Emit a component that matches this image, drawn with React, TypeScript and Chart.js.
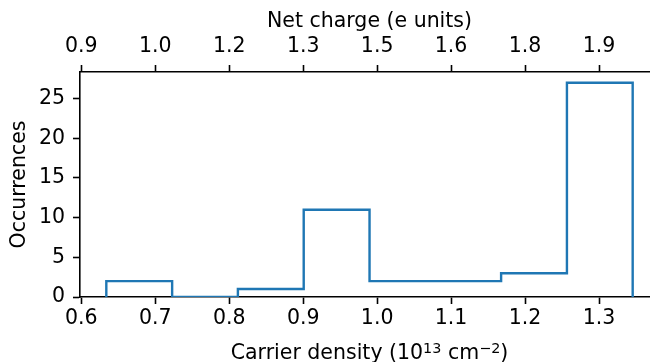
import React, { useEffect, useRef } from "react";
import { Chart, registerables } from "chart.js";

Chart.register(...registerables);

// Histogram of carrier density (bin edges, 10^13 cm^-2) and counts per bin
const binEdges = [0.6338, 0.7228, 0.8117, 0.9007, 0.9897, 1.0786, 1.1676, 1.2566, 1.3455];
const binCounts = [2, 0, 1, 11, 2, 2, 3, 27];

// Bottom axis ticks (carrier density) and the matching net-charge labels on top
const densityTicks = [0.6, 0.7, 0.8, 0.9, 1.0, 1.1, 1.2, 1.3];
const chargeLabels = ["0.9", "1.0", "1.2", "1.3", "1.5", "1.6", "1.8", "1.9"];
const countTicks = [0, 5, 10, 15, 20, 25];

// Bottom axis title, split into normal and superscript runs
const densityTitle: { text: string; sup: boolean }[] = [
  { text: "Carrier density (10", sup: false },
  { text: "13", sup: true },
  { text: " cm", sup: false },
  { text: "\u22122", sup: true },
  { text: ")", sup: false },
];

const FONT = "'DejaVu Sans', 'Liberation Sans', sans-serif";
const SIZE = 20.5;
const LINE = "#1f77b4";

// Draws the bottom axis title with raised, smaller superscripts
const densityTitlePlugin = {
  id: "densityTitle",
  afterDraw(chart: any) {
    const ctx: CanvasRenderingContext2D = chart.ctx;
    const area = chart.chartArea;
    const supSize = SIZE * 0.7;
    const fontFor = (sup: boolean) => `${sup ? supSize : SIZE}px ${FONT}`;
    ctx.save();
    ctx.fillStyle = "#000";
    ctx.textBaseline = "alphabetic";
    ctx.textAlign = "left";
    let total = 0;
    const widths = densityTitle.map((run) => {
      ctx.font = fontFor(run.sup);
      const w = ctx.measureText(run.text).width;
      total += w;
      return w;
    });
    let x = (area.left + area.right) / 2 - total / 2;
    const baseline = 359;
    densityTitle.forEach((run, i) => {
      ctx.font = fontFor(run.sup);
      ctx.fillText(run.text, x, run.sup ? baseline - 6.5 : baseline);
      x += widths[i];
    });
    ctx.restore();
  },
};

export default function App() {
  const canvasRef = useRef<HTMLCanvasElement | null>(null);

  useEffect(() => {
    const canvas = canvasRef.current;
    if (!canvas) return;

    // step outline of the histogram: up at the first edge, across each bin, down at the last edge
    const pts: { x: number; y: number }[] = [{ x: binEdges[0], y: 0 }];
    binCounts.forEach((c, i) => {
      pts.push({ x: binEdges[i], y: c });
      pts.push({ x: binEdges[i + 1], y: c });
    });
    pts.push({ x: binEdges[binEdges.length - 1], y: 0 });

    const lo = binEdges[0];
    const hi = binEdges[binEdges.length - 1];
    const xMin = lo - 0.05 * (hi - lo);
    const xMax = hi + 0.05 * (hi - lo);
    const yMax = Math.max(...binCounts) * 1.05;

    const tickFont = { family: FONT, size: SIZE };
    const titleFont = { family: FONT, size: SIZE, lineHeight: 1 };
    const grid = {
      display: true,
      drawOnChartArea: false,
      drawTicks: true,
      tickLength: 7,
      tickWidth: 1.6,
      tickColor: "#000",
      color: "#000",
    };
    const border = { display: true, color: "#000", width: 1.6 };

    const chart = new Chart(canvas, {
      type: "line",
      data: {
        datasets: [
          {
            data: pts,
            borderColor: LINE,
            borderWidth: 2.4,
            pointRadius: 0,
            tension: 0,
            fill: false,
            xAxisID: "x",
            yAxisID: "y",
          },
        ],
      },
      options: {
        responsive: false,
        animation: false,
        devicePixelRatio: 1,
        layout: { padding: 0 },
        plugins: { legend: { display: false }, tooltip: { enabled: false } },
        scales: {
          x: {
            type: "linear",
            position: "bottom",
            min: xMin,
            max: xMax,
            grid,
            border,
            afterBuildTicks: (s: any) => {
              s.ticks = densityTicks.map((v) => ({ value: v }));
            },
            afterFit: (s: any) => {
              s.height = 65;
            },
            ticks: {
              autoSkip: false,
              maxRotation: 0,
              color: "#000",
              font: tickFont,
              padding: 2,
              callback: (v: any) => Number(v).toFixed(1),
            },
            title: { display: false },
          },
          x2: {
            type: "linear",
            position: "top",
            min: xMin,
            max: xMax,
            grid,
            border,
            afterBuildTicks: (s: any) => {
              s.ticks = densityTicks.map((v) => ({ value: v }));
            },
            afterFit: (s: any) => {
              s.height = 72;
            },
            ticks: {
              autoSkip: false,
              maxRotation: 0,
              color: "#000",
              font: tickFont,
              padding: 6,
              callback: (_v: any, i: number) => chargeLabels[i],
            },
            title: {
              display: true,
              text: "Net charge (e units)",
              color: "#000",
              font: titleFont,
              padding: { top: 11, bottom: 0 },
            },
          },
          y: {
            type: "linear",
            position: "left",
            min: 0,
            max: yMax,
            grid,
            border,
            afterBuildTicks: (s: any) => {
              s.ticks = countTicks.map((v) => ({ value: v }));
            },
            afterFit: (s: any) => {
              s.width = 80;
            },
            ticks: {
              color: "#000",
              font: tickFont,
              padding: 8,
              callback: (v: any) => String(v),
            },
            title: {
              display: true,
              text: "Occurrences",
              color: "#000",
              font: titleFont,
              padding: { top: 9, bottom: 0 },
            },
          },
        },
      },
      plugins: [densityTitlePlugin],
    });

    return () => chart.destroy();
  }, []);

  return (
    <div style={{ position: "absolute", left: 0, top: 0, width: 650, height: 362, overflow: "hidden", background: "#fff" }}>
      <canvas ref={canvasRef} width={659} height={362} style={{ display: "block", width: 659, height: 362 }} />
    </div>
  );
}
